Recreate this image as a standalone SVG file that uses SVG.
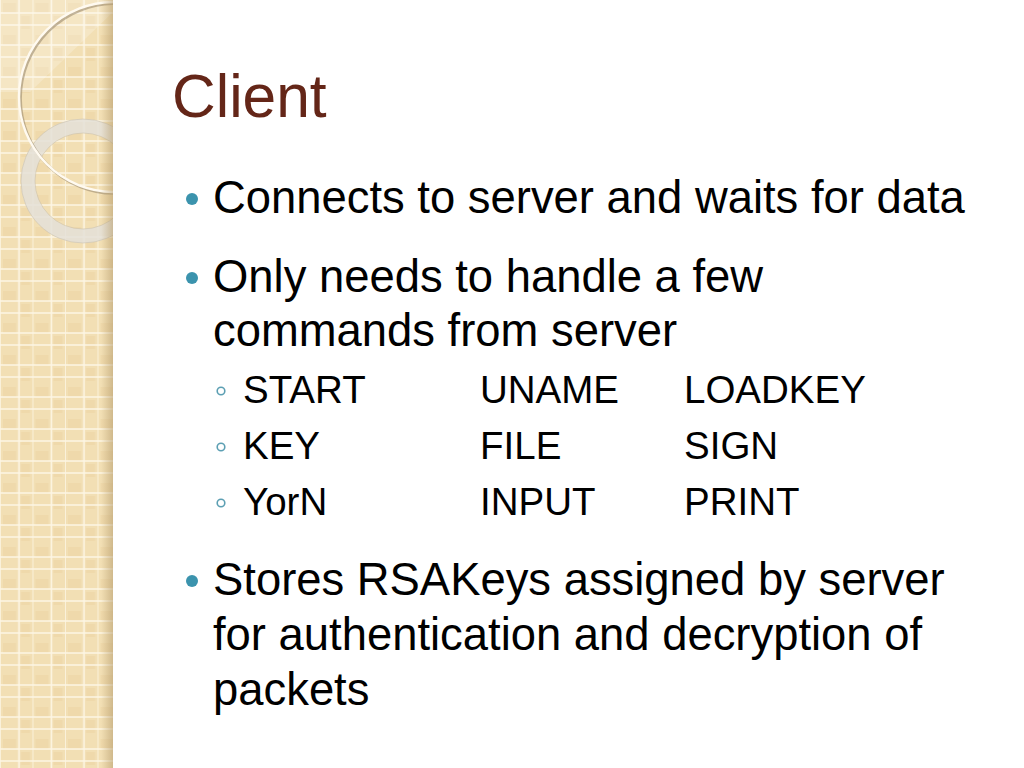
<svg xmlns="http://www.w3.org/2000/svg" width="1024" height="768" viewBox="0 0 1024 768">
  <defs>
    <pattern id="grid" x="0" y="0" width="32.5" height="32" patternUnits="userSpaceOnUse">
      <rect width="32.5" height="32" fill="#f2dfb4"/>
      <rect x="3" y="3" width="13" height="10" fill="#efd9ab"/>
      <rect x="21" y="16" width="9" height="13" fill="#efd9ab"/>
      <line x1="0" y1="0" x2="0" y2="32" stroke="#fdf6e4" stroke-width="1.6"/>
      <line x1="19" y1="0" x2="19" y2="32" stroke="#fdf6e4" stroke-width="1.6"/>
      <line x1="0" y1="13" x2="32.5" y2="13" stroke="#fdf6e4" stroke-width="1.6"/>
      <line x1="0" y1="25" x2="32.5" y2="25" stroke="#fdf6e4" stroke-width="1.6"/>
    </pattern>
    <linearGradient id="edge" x1="0" y1="0" x2="1" y2="0">
      <stop offset="0" stop-color="#b49a6a" stop-opacity="0"/>
      <stop offset="1" stop-color="#b49a6a" stop-opacity="0.55"/>
    </linearGradient>
    <clipPath id="side">
      <rect x="0" y="0" width="113" height="768"/>
    </clipPath>
    <style>
      .body { font-family: "Liberation Sans", Arial, sans-serif; font-size: 45.4px; fill: #000000; }
      .sub { font-family: "Liberation Sans", Arial, sans-serif; font-size: 38.5px; fill: #000000; }
      .title { font-family: "Liberation Sans", Arial, sans-serif; font-size: 60.5px; fill: #642618; }
      .dot { fill: #3b93ad; }
      .ring { fill: none; stroke: #5c9fb3; stroke-width: 1.6; }
    </style>
  </defs>

  <rect width="1024" height="768" fill="#ffffff"/>

  <g id="sidebar" clip-path="url(#side)">
    <rect x="0" y="0" width="113" height="768" fill="url(#grid)"/>
    <path d="M0 0 H113 V12 L30 92 H0 Z" fill="#ffffff" opacity="0.22"/>
    <circle cx="83" cy="181" r="55" fill="none" stroke="#e4e0d8" stroke-width="14" opacity="0.85"/>
    <circle cx="83" cy="181" r="62" fill="none" stroke="#c9c0ae" stroke-width="0.8" opacity="0.7"/>
    <circle cx="83" cy="181" r="48" fill="none" stroke="#c9c0ae" stroke-width="0.8" opacity="0.7"/>
    <circle cx="115.5" cy="98.5" r="95" fill="none" stroke="#9c8c70" stroke-width="2.8" opacity="0.6"/>
    <circle cx="114" cy="97" r="95" fill="none" stroke="#fffaf0" stroke-width="2.4"/>
    <rect x="101" y="0" width="12" height="768" fill="url(#edge)"/>
  </g>

  <g id="title">
    <text class="title" x="172" y="117">Client</text>
  </g>

  <g id="bullet1">
    <circle class="dot" cx="192" cy="199" r="6"/>
    <text class="body" x="213" y="213">Connects to server and waits for data</text>
  </g>

  <g id="bullet2">
    <circle class="dot" cx="192" cy="278" r="6"/>
    <text class="body" x="213" y="292">Only needs to handle a few</text>
    <text class="body" x="213" y="346">commands from server</text>
  </g>

  <g id="commands">
    <circle class="ring" cx="221" cy="391" r="3.8"/>
    <text class="sub" x="243" y="403">START</text>
    <text class="sub" x="480" y="403">UNAME</text>
    <text class="sub" x="684" y="403">LOADKEY</text>
    <circle class="ring" cx="221" cy="447" r="3.8"/>
    <text class="sub" x="243" y="459">KEY</text>
    <text class="sub" x="480" y="459">FILE</text>
    <text class="sub" x="684" y="459">SIGN</text>
    <circle class="ring" cx="221" cy="503" r="3.8"/>
    <text class="sub" x="243" y="515">YorN</text>
    <text class="sub" x="480" y="515">INPUT</text>
    <text class="sub" x="684" y="515">PRINT</text>
  </g>

  <g id="bullet3">
    <circle class="dot" cx="192" cy="581" r="6"/>
    <text class="body" x="213" y="595">Stores RSAKeys assigned by server</text>
    <text class="body" x="213" y="650">for authentication and decryption of</text>
    <text class="body" x="213" y="705">packets</text>
  </g>
</svg>
